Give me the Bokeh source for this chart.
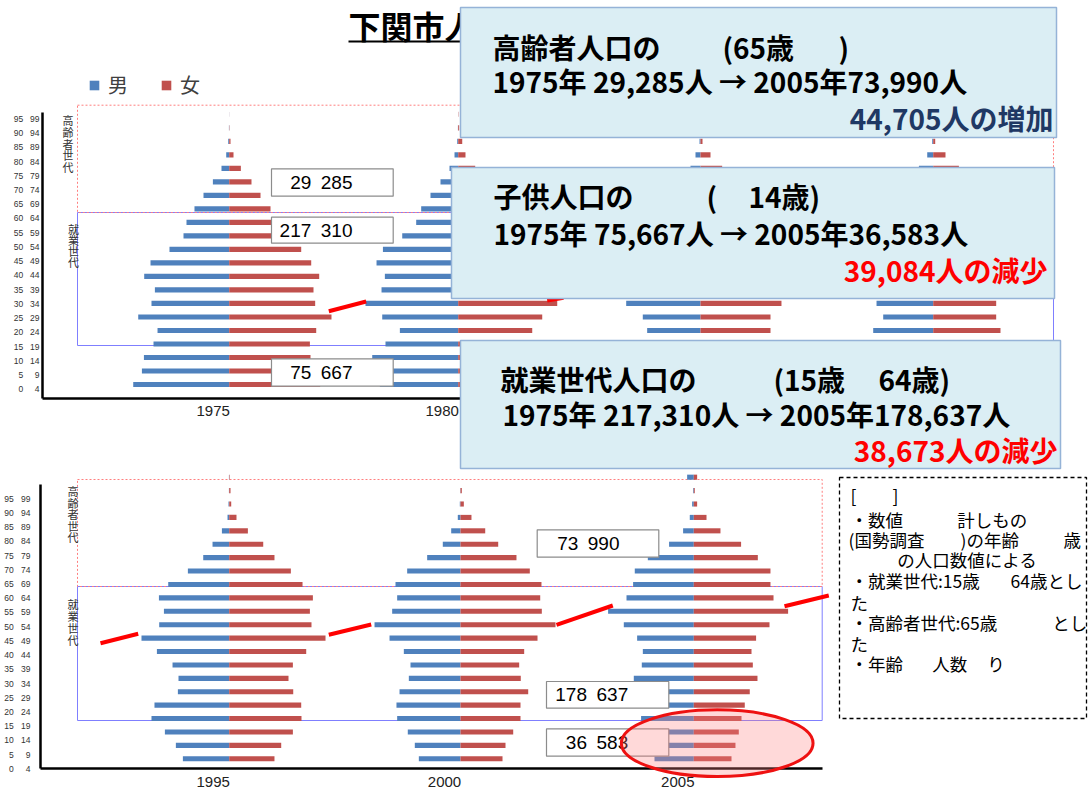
from bokeh.plotting import figure
from bokeh.models import Range1d, Legend, LegendItem, ColumnDataSource
from bokeh.core.properties import value
from bokeh.embed import file_html
from bokeh.resources import INLINE

# ---------------- data ----------------
age_groups = ["0-4", "5-9", "10-14", "15-19", "20-24", "25-29", "30-34", "35-39", "40-44",
              "45-49", "50-54", "55-59", "60-64", "65-69", "70-74", "75-79", "80-84",
              "85-89", "90-94", "95-99", "100-104", "105+"]
age_lo = [0, 5, 10, 15, 20, 25, 30, 35, 40, 45, 50, 55, 60, 65, 70, 75, 80, 85, 90, 95]
age_hi = [4, 9, 14, 19, 24, 29, 34, 39, 44, 49, 54, 59, 64, 69, 74, 79, 84, 89, 94, 99]

years_top = [1975, 1980, 1985, 1990]
years_bottom = [1995, 2000, 2005]

male_1975 = [13820, 12570, 12280, 10900, 10320, 13100, 11190, 10700, 12240, 11330, 8600,
             6580, 6150, 5000, 3700, 2350, 1110, 430, 140, 40, 10, 0]
female_1975 = [13100, 12100, 11710, 11620, 12530, 14730, 12380, 12140, 12960, 11810, 10370,
               7920, 7200, 5950, 4510, 3210, 1680, 620, 190, 40, 10, 0]
male_1980 = [11280, 11420, 12380, 10470, 8400, 10940, 13350, 11040, 10560, 11760, 10840,
             8060, 6050, 5330, 3990, 2550, 1250, 530, 140, 40, 10, 0]
female_1980 = [10660, 10940, 11810, 10370, 10660, 12100, 14260, 12100, 12380, 12960, 11810,
               10370, 8210, 7200, 5760, 4180, 2450, 1050, 580, 140, 40, 0]
male_1985 = [9070, 10370, 11230, 11520, 7680, 8310, 10700, 12960, 10940, 10370, 11380,
             10370, 7490, 5470, 4610, 3020, 1440, 720, 140, 40, 10, 0]
female_1985 = [8640, 9790, 10660, 10940, 10080, 10080, 11660, 13970, 12100, 12100, 12670,
               11520, 9360, 7490, 6480, 4900, 3120, 1440, 290, 70, 10, 0]
male_1990 = [7630, 9070, 10370, 10940, 8640, 7200, 8160, 10370, 12670, 10660, 10370,
             10370, 8930, 6910, 5180, 3460, 2060, 860, 140, 40, 10, 0]
female_1990 = [7200, 8640, 9790, 10370, 9690, 9070, 9070, 11520, 13680, 12100, 12100,
               11810, 11230, 9500, 7920, 5760, 3700, 1770, 290, 70, 10, 0]
male_1995 = [6670, 7680, 9260, 11190, 10760, 7390, 7300, 8160, 10410, 12630, 10080,
             9400, 10120, 8780, 5950, 3740, 2400, 1050, 240, 100, 40, 40]
female_1995 = [6520, 7490, 9170, 10410, 10370, 9220, 8540, 9170, 11090, 13870, 11850,
               11620, 12050, 10560, 8880, 6520, 4900, 2690, 1050, 290, 190, 70]
male_2000 = [6000, 6580, 7590, 9120, 9220, 8780, 7440, 7200, 8160, 10220, 12380,
             9840, 9120, 9360, 7680, 4800, 2550, 1340, 390, 100, 40, 0]
female_2000 = [6050, 6480, 7590, 8640, 8640, 9750, 8680, 8450, 9170, 11090, 13680,
               11710, 11480, 11660, 9980, 8060, 5430, 3560, 1580, 480, 190, 0]
male_2005 = [5660, 6190, 6770, 7590, 8060, 8350, 8640, 7490, 7340, 8160, 10080,
             12340, 9690, 8740, 8500, 6620, 3560, 1540, 580, 240, 100, 960]
female_2005 = [5430, 6000, 6480, 6870, 7340, 8060, 9170, 8500, 8310, 8970, 10900,
               13580, 11480, 11040, 11040, 9220, 6810, 3840, 1830, 480, 140, 480]

# group totals (1975, 2005)
elderly_pop = [29285, 73990]
child_pop = [75667, 36583]
working_pop = [217310, 178637]

male = {1975: male_1975, 1980: male_1980, 1985: male_1985, 1990: male_1990,
        1995: male_1995, 2000: male_2000, 2005: male_2005}
female = {1975: female_1975, 1980: female_1980, 1985: female_1985, 1990: female_1990,
          1995: female_1995, 2000: female_2000, 2005: female_2005}

# ---------------- layout constants ----------------
W, H = 1088, 792
X0, X1, Y0, Y1 = 0, 1088, 0, 792        # page-pixel coordinates of the frame
S = 144                                 # persons per pixel
centers_top = [228.7, 457.7, 700.0, 932.7]
centers_bottom = [228.7, 460.0, 693.3]
BLUE, RED = "#4f81bd", "#c0504d"
JP = value("Noto Sans CJK JP")
SANS = value("Liberation Sans")


def yrange(y_first, step):
    return Range1d(start=(y_first - Y1) / step, end=(y_first - Y0) / step)


p = figure(width=W, height=H, x_range=Range1d(X0, X1), y_range=Range1d(Y1, Y0),
           output_backend="svg", toolbar_location=None, min_border=0,
           x_axis_location=None, y_axis_location=None)
p.grid.visible = False
p.outline_line_color = None
p.background_fill_color = "white"

xr = {}
for yrs, cs in ((years_top, centers_top), (years_bottom, centers_bottom)):
    for yr, c in zip(yrs, cs):
        xr[f"x{yr}"] = Range1d((X0 - c) * S, (X1 - c) * S)
p.extra_x_ranges = xr
p.extra_y_ranges = {"ytop": yrange(384.0, 13.51), "ybot": yrange(758.3, 13.41),
                    "ltop": yrange(388.7, 14.23), "lbot": yrange(768.3, 14.21)}

# ---- generation boxes (dotted pink = elderly, blue = working) ----
p.quad(left=[77, 77], right=[1053, 821.7], top=[212, 586], bottom=[345, 720],
       fill_color=None, line_color="#7f7fff", line_width=1)
p.quad(left=[77, 77], right=[1053, 821.7], top=[104.7, 479], bottom=[212, 586],
       fill_color=None, line_color="#ff7f7f", line_width=1, line_dash="2 2")

# ---- pyramids ----
legend_items = []
for yrs, yname in ((years_top, "ytop"), (years_bottom, "ybot")):
    for yr in yrs:
        src = ColumnDataSource(dict(idx=list(range(len(age_groups))),
                                    m=[-v for v in male[yr]], f=female[yr],
                                    z=[0] * len(age_groups)))
        rm = p.hbar(y="idx", left="m", right="z", height=0.38, fill_color=BLUE,
                    line_color=None, source=src, x_range_name=f"x{yr}", y_range_name=yname)
        rf = p.hbar(y="idx", left="z", right="f", height=0.38, fill_color=RED,
                    line_color=None, source=src, x_range_name=f"x{yr}", y_range_name=yname)
        if yr == 1975:
            legend_items = [LegendItem(label="男", renderers=[rm]),
                            LegendItem(label="女", renderers=[rf])]

# ---- axis lines ----
p.segment(x0=[42, 42, 40, 40], y0=[112, 398, 484, 768], x1=[42, 1053, 40, 822],
          y1=[398, 398, 768, 768], line_color="black", line_width=2.5)

# ---- age tick labels ----
for lname, xlo, xhi in (("ltop", 22.7, 39.0), ("lbot", 13.3, 30.0)):
    p.text(x=[xlo] * len(age_lo), y=list(range(len(age_lo))), text=[str(a) for a in age_lo],
           y_range_name=lname, text_align="right", text_baseline="middle",
           text_font=SANS, text_font_size="8.5px", text_color="#333333")
    p.text(x=[xhi] * len(age_hi), y=list(range(len(age_hi))), text=[str(a) for a in age_hi],
           y_range_name=lname, text_align="right", text_baseline="middle",
           text_font=SANS, text_font_size="8.5px", text_color="#333333")

# ---- year labels ----
for yrs, yname, ypix in ((years_top, "ytop", 410), (years_bottom, "ybot", 781)):
    for yr in yrs:
        p.text(x=[0], y=[ypix], text=[str(yr)], x_range_name=f"x{yr}", x_offset=-16,
               text_align="center", text_baseline="middle", text_font=SANS,
               text_font_size="15px", text_color="#222222")

# ---- vertical generation labels (one character per line) ----
vx, vy, vt = [], [], []
for word, xc, ytop_, step in (("高齢者世代", 67.5, 119.8, 11.6), ("就業世代", 73, 228.5, 11.0),
                              ("高齢者世代", 72.5, 490.7, 11.5), ("就業世代", 72.5, 603.9, 11.7)):
    for k, ch in enumerate(word):
        vx.append(xc)
        vy.append(ytop_ + k * step)
        vt.append(ch)
p.text(x=vx, y=vy, text=vt, text_align="center", text_baseline="middle", text_font=JP,
       text_font_size="11px", text_color="#333333")

# ---- title ----
p.text(x=[348], y=[24], text=["下関市人"], text_align="left", text_baseline="middle",
       text_font=JP, text_font_size="32px", text_font_style="bold", text_color="black")
p.segment(x0=[348], y0=[41], x1=[470], y1=[41], line_color="black", line_width=2)

# ---- value boxes ----
def fmt(v):
    return f"{v:,}".replace(",", "\u2002")

vb_l = [271, 271, 271, 536.7, 546, 546]
vb_r = [392.7, 392.7, 392.7, 658.3, 668.3, 668.3]
vb_t = [168.3, 216.7, 358.3, 529.3, 681, 728.3]
vb_b = [195.7, 242.7, 385.7, 556.7, 707.7, 755.7]
p.quad(left=vb_l, right=vb_r, top=vb_t, bottom=vb_b, fill_color="white",
       line_color="#8c8c8c", line_width=1.2)
p.text(x=[352, 352, 352, 619, 627.7, 627.7], y=[182, 229.7, 372, 543, 694.3, 742],
       text=[fmt(elderly_pop[0]), fmt(working_pop[0]), fmt(child_pop[0]),
             fmt(elderly_pop[1]), fmt(working_pop[1]), fmt(child_pop[1])],
       text_align="right", text_baseline="middle", text_font=SANS,
       text_font_size="19px", text_color="black")

# ---- cohort lines ----
p.segment(x0=[328.3, 546.7, 100, 328.3, 556, 784], y0=[310.7, 300, 642.7, 634.3, 624.3, 605.7],
          x1=[365.7, 563, 137.7, 370.7, 612.3, 828.3], y1=[301, 297.3, 633.3, 624, 605, 595],
          line_color="#ff0000", line_width=4)

# ---- highlight ellipse ----
p.ellipse(x=[716.7], y=[742.7], width=[191.7], height=[66.7], fill_color="#ff8080",
          fill_alpha=0.3, line_color="#ee1111", line_width=3)

# ---- info boxes ----
p.quad(left=[460, 451, 460], right=[1056, 1054, 1060], top=[7, 167, 340], bottom=[137, 298, 468],
       fill_color="#dbeef4", line_color="#95b3d7", line_width=1.5)
p.text(x=[492, 722, 838, 493, 706, 748, 500, 773, 878],
       y=[46, 46, 46, 195, 195, 195, 378, 378, 378],
       text=["高齢者人口の", "(65歳", ")", "子供人口の", "(", "14歳)", "就業世代人口の", "(15歳", "64歳)"],
       text_align="left", text_baseline="middle", text_font=JP, text_font_size="28px",
       text_font_style="bold", text_color="black")
p.text(x=[492, 493, 502], y=[80, 232, 413],
       text=[f"1975年 {elderly_pop[0]:,}人 → 2005年{elderly_pop[1]:,}人",
             f"1975年 {child_pop[0]:,}人 → 2005年{child_pop[1]:,}人",
             f"1975年 {working_pop[0]:,}人 → 2005年{working_pop[1]:,}人"],
       text_align="left", text_baseline="middle", text_font=JP, text_font_size="28px",
       text_font_style="bold", text_color="black")
p.text(x=[1053, 1047, 1057], y=[117, 269, 449],
       text=[f"{elderly_pop[1] - elderly_pop[0]:,}人の増加",
             f"{child_pop[0] - child_pop[1]:,}人の減少",
             f"{working_pop[0] - working_pop[1]:,}人の減少"],
       text_align="right", text_baseline="middle", text_font=JP, text_font_size="28px",
       text_font_style="bold", text_color=["#1f3864", "#ff0000", "#ff0000"])

# ---- notes box ----
p.quad(left=[839], right=[1086], top=[477], bottom=[718], fill_color="white",
       line_color="black", line_width=1.3, line_dash="4 3")
p.text(x=[850, 892, 850, 956.7, 848, 960, 1063, 896.7, 850, 1010, 850, 850, 1051.7, 850, 850, 931.7, 986.7],
       y=[495, 495, 519, 519, 539.3, 539.3, 539.3, 559.3, 580, 580, 601.7, 621.7, 621.7, 642.7, 662.7, 662.7, 662.7],
       text=["[", "]", "・数値", "計しもの", "(国勢調査", ")の年齢", "歳", "の人口数値による",
             "・就業世代:15歳", "64歳とし", "た", "・高齢者世代:65歳", "とし", "た", "・年齢", "人数", "り"],
       text_align="left", text_baseline="middle", text_font=JP, text_font_size="17.5px",
       text_color="black")

# ---- legend ----
legend = Legend(items=legend_items, location=(88, 693), orientation="horizontal",
                label_text_font="Noto Sans CJK JP", label_text_font_size="20px",
                label_text_color="#404040", glyph_width=12, glyph_height=12,
                label_standoff=8, spacing=32, padding=0, margin=0,
                border_line_color=None, background_fill_alpha=0)
p.add_layout(legend)

open("out.html", "w").write(file_html(p, INLINE))
